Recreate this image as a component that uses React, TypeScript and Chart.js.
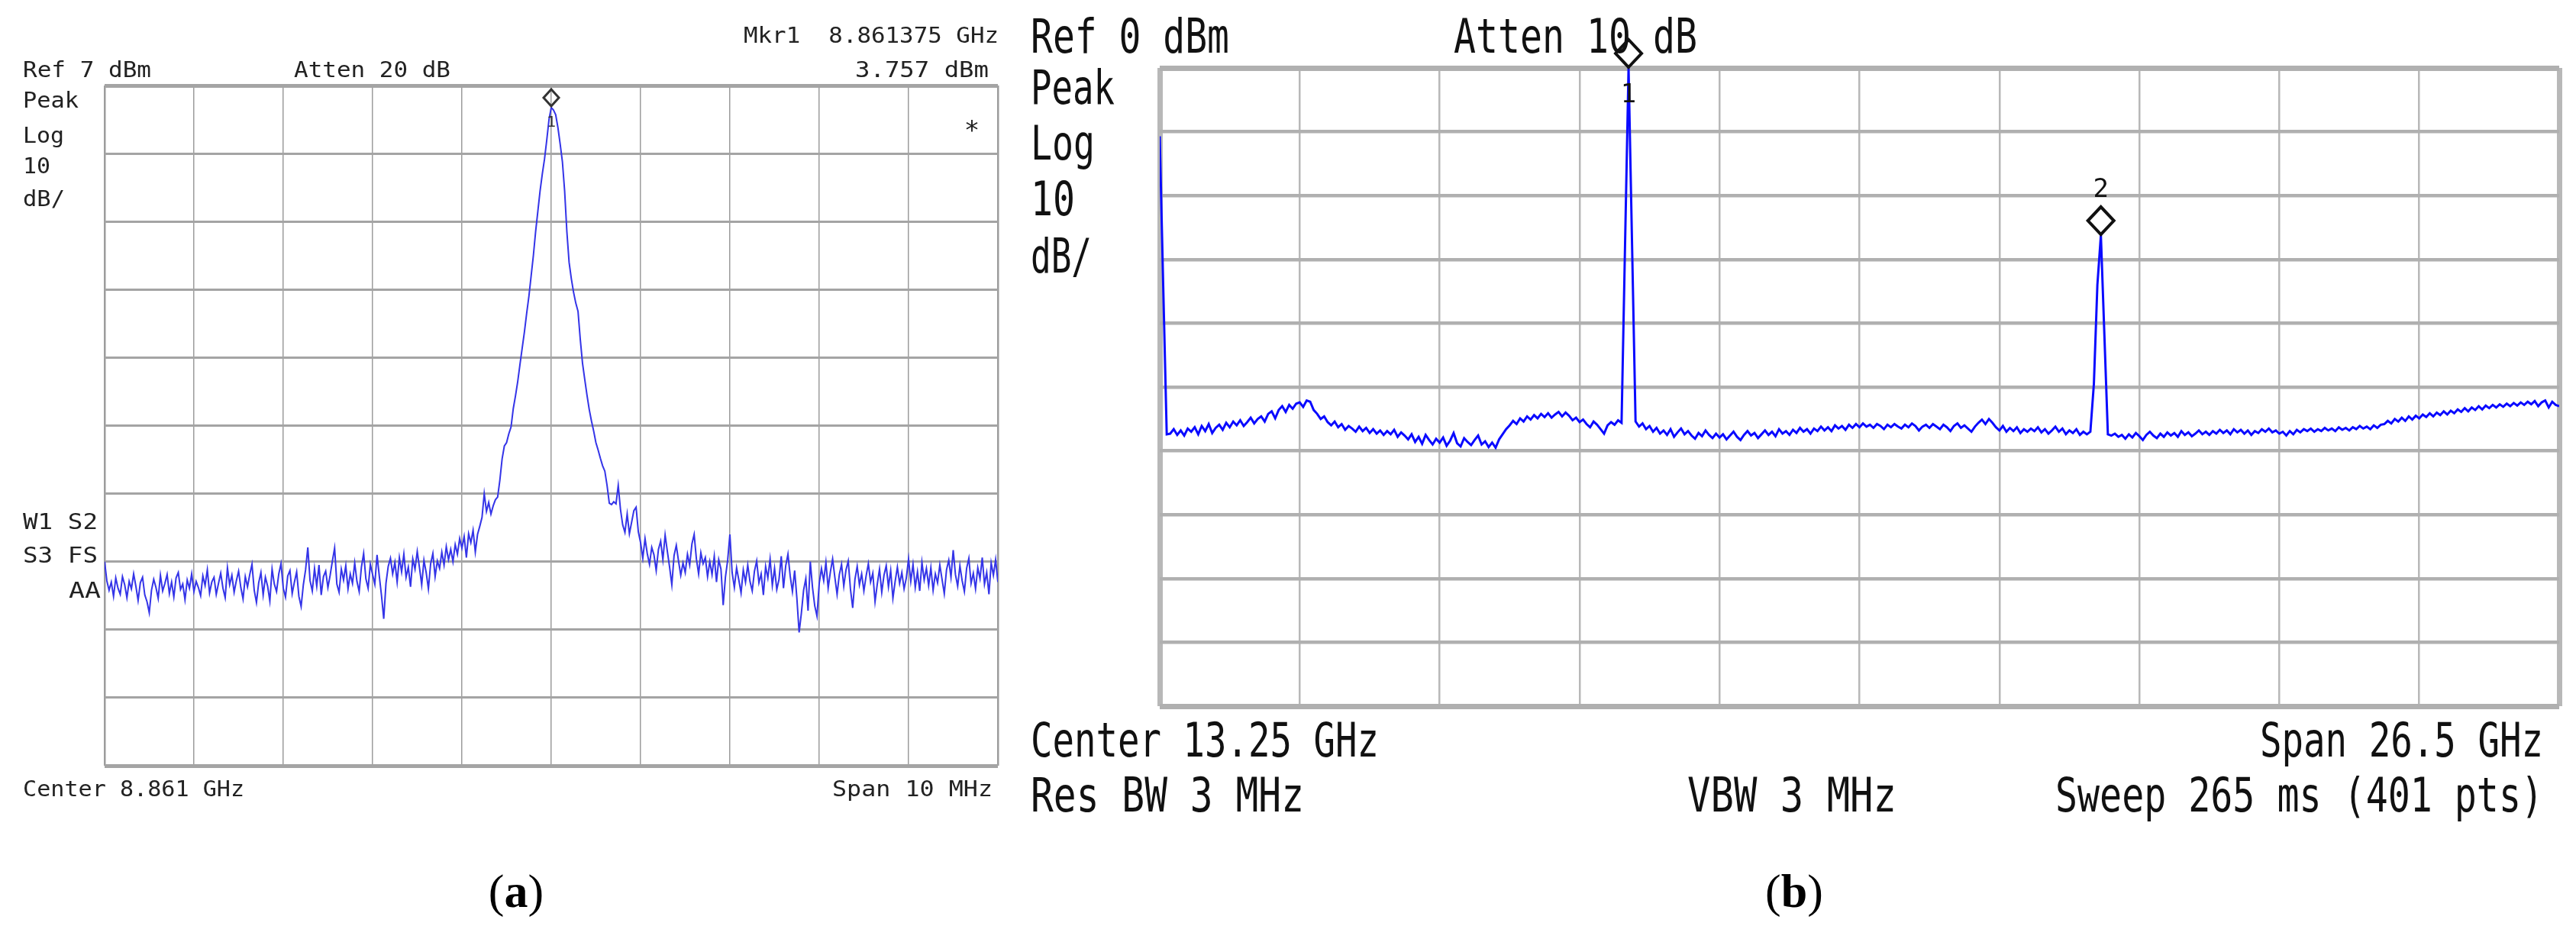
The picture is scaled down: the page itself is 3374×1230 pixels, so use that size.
import React, { useEffect, useRef } from "react";
import { Chart, registerables } from "chart.js";
Chart.register(...registerables);

// Panel (a): 401-point sweep, Ref 7 dBm, 10 dB/div, centre 8.861 GHz, span 10 MHz
const traceA: number[] = [
  -63.0, -65.8, -67.2, -66.0, -68.1, -65.4, -66.9, -67.8, -65.2, -66.4,
  -68.3, -65.9, -67.0, -64.8, -66.6, -68.7, -66.1, -65.3, -67.9, -68.9,
  -70.5, -67.2, -65.6, -66.8, -68.4, -65.0, -67.3, -66.2, -64.9, -67.7,
  -66.0, -68.2, -65.4, -64.6, -67.1, -66.3, -68.6, -65.7, -66.9, -64.8,
  -67.4, -65.9, -66.8, -68.0, -65.1, -66.5, -64.2, -67.6, -66.0, -65.3,
  -67.8, -66.2, -64.7, -66.9, -68.3, -63.9, -66.4, -65.0, -67.5, -65.8,
  -64.4, -66.8, -68.5, -65.2, -66.7, -64.9, -63.4, -67.2, -69.0, -66.1,
  -64.6, -67.9, -65.3, -66.6, -68.8, -64.1, -66.3, -67.4, -64.8, -63.3,
  -66.9, -68.2, -65.1, -64.3, -67.7, -66.0, -64.5, -68.1, -69.6, -66.4,
  -64.2, -60.9, -65.8, -67.3, -64.0, -66.6, -63.5, -67.9, -65.2, -64.4,
  -66.8, -65.0, -62.9, -61.0, -66.3, -67.5, -64.1, -65.7, -63.6, -67.0,
  -64.8, -66.2, -63.2, -65.9, -67.4, -63.8, -61.8, -65.5, -66.9, -63.4,
  -64.9, -66.3, -62.0, -65.1, -68.0, -71.4, -66.2, -63.7, -62.5, -64.8,
  -63.1, -66.0, -62.4, -64.5, -61.9, -65.3, -63.8, -66.7, -62.6, -64.1,
  -61.5, -63.9, -66.4, -62.8, -64.6, -67.0, -63.3, -61.8, -65.2, -62.9,
  -64.0, -61.6, -63.5, -60.8, -62.7, -61.2, -63.0, -60.5, -61.9, -59.6,
  -61.0, -59.3, -62.4, -58.9, -60.2, -58.4, -61.6, -59.0, -57.8, -56.5,
  -53.0, -55.6, -54.3, -56.0, -54.8, -53.9, -53.5, -51.0, -47.9, -46.0,
  -45.5, -44.2, -43.2, -40.5, -38.6, -36.5, -34.0, -31.6, -29.2, -26.5,
  -24.0, -21.0, -18.0, -14.5, -11.5, -8.5, -6.0, -3.8, -1.0, 2.0,
  3.757, 3.4, 2.7, 0.8, -1.6, -4.2, -8.5, -14.5, -19.0, -21.4,
  -23.4, -25.0, -26.2, -30.3, -33.8, -36.2, -38.5, -40.6, -42.3, -43.8,
  -45.5, -46.6, -47.8, -48.9, -49.7, -51.8, -54.4, -54.6, -54.2, -54.5,
  -51.8, -55.3, -57.6, -58.7, -56.0, -58.9, -57.2, -55.5, -55.0, -58.6,
  -60.2, -62.5, -59.6, -61.8, -63.4, -60.9, -62.0, -64.3, -61.2, -60.0,
  -62.7, -59.1, -61.5, -63.8, -66.4, -62.1, -60.6, -62.9, -65.0, -63.2,
  -64.6, -61.9, -63.5, -60.4, -59.0, -62.6, -64.8, -61.7, -63.3, -62.4,
  -65.2, -63.0, -64.9, -62.2, -66.0, -62.7, -64.1, -69.4, -65.3, -62.8,
  -59.0, -64.6, -66.8, -63.9, -65.7, -67.6, -64.2, -66.0, -63.5, -65.9,
  -67.3, -64.4, -62.9, -66.1, -64.8, -67.9, -63.7, -65.4, -62.6, -66.5,
  -64.0, -67.1, -65.6, -62.2, -66.9, -63.6, -61.9, -65.1, -67.4, -64.3,
  -68.4, -73.4, -70.6, -67.2, -65.5, -70.2, -63.0, -66.8, -69.5, -71.0,
  -66.2, -64.0, -65.8, -63.1, -66.9, -64.5, -62.6, -65.3, -67.8, -64.9,
  -63.4, -66.6, -64.2, -62.9, -67.1, -69.8, -65.6, -63.7, -66.4, -64.8,
  -67.3, -65.1, -63.3, -66.0, -64.7, -68.9, -66.3, -64.1, -67.5, -65.0,
  -63.6, -66.7, -64.3, -68.4, -65.9, -63.8, -66.2, -64.6, -67.0, -65.4,
  -62.6, -65.9, -63.4, -66.8, -64.5, -67.3, -63.1, -65.7, -64.0, -66.5,
  -63.9, -67.2, -64.8, -66.1, -63.5, -65.6, -67.7, -64.2, -62.8, -65.3,
  -61.3, -64.9, -66.6, -63.6, -65.8, -67.4, -64.0, -62.5, -66.2, -64.7,
  -67.0, -63.9, -65.5, -62.4, -66.3, -64.6, -67.8, -63.2, -65.0, -62.7,
  -66.0,
];

// Panel (b): 401-point sweep, Ref 0 dBm, 10 dB/div, 0 – 26.5 GHz
const traceB: number[] = [
  -10.7, -34.3, -57.4, -57.3, -56.6, -57.5, -56.8, -57.6, -56.5, -57.0,
  -56.3, -57.4, -56.1, -56.9, -55.8, -57.2, -56.4, -55.9, -56.7, -55.6,
  -56.3, -55.4, -56.0, -55.2, -56.1, -55.5, -54.8, -55.7, -55.0, -54.6,
  -55.4, -54.2, -53.8, -54.9, -53.6, -53.0, -53.9, -52.8, -53.4, -52.6,
  -52.4, -53.1, -52.1, -52.3, -53.6, -54.2, -55.0, -54.6, -55.5, -56.0,
  -55.4, -56.3, -55.8, -56.7, -56.1, -56.5, -57.0, -56.2, -56.9, -56.4,
  -57.2, -56.6, -57.3, -56.8, -57.5, -56.9, -57.4, -56.7, -57.8, -57.1,
  -57.6, -58.2, -57.4, -58.6, -57.8, -58.9, -57.5, -58.3, -59.0, -58.1,
  -58.7, -57.9, -59.2, -58.4, -57.2, -58.8, -59.3, -58.0, -58.6, -59.1,
  -58.3, -57.6, -59.0, -58.5, -59.4, -58.7, -59.5, -58.2, -57.4, -56.6,
  -56.0, -55.3, -55.8, -54.9, -55.4, -54.6, -55.1, -54.4, -54.9, -54.2,
  -54.7, -54.1, -54.8, -54.3, -53.9, -54.6, -54.0, -54.5, -55.2, -54.8,
  -55.5, -55.1, -55.8, -56.3, -55.4, -55.9, -56.6, -57.3, -56.0, -55.5,
  -55.9, -55.2, -55.6, -27.7, 0.0, -27.7, -55.4, -56.2, -55.7, -56.6,
  -56.1, -57.0, -56.4, -57.3, -56.8, -57.5, -56.6, -57.8, -57.1, -56.5,
  -57.4, -56.9, -57.6, -58.1, -57.2, -57.7, -56.8, -57.5, -58.0, -57.3,
  -57.9, -57.4, -58.2, -57.6, -57.0, -57.8, -58.3, -57.5, -56.9, -57.6,
  -57.2, -58.0, -57.4, -56.8, -57.5, -57.0, -57.7, -56.6, -57.3, -56.9,
  -57.5, -56.7, -57.2, -56.4, -57.0, -56.6, -57.3, -56.5, -56.9, -56.2,
  -56.8, -56.3, -56.9, -56.0, -56.5, -56.1, -56.7, -55.9, -56.4, -55.8,
  -56.3, -55.7, -56.2, -55.9, -56.4, -55.8, -56.1, -56.6, -55.9, -56.3,
  -55.8, -56.2, -56.5, -55.9, -56.3, -55.7, -56.1, -56.8, -56.2, -55.9,
  -56.4, -55.8, -56.2, -56.6, -55.9, -56.3, -56.9, -56.1, -55.7, -56.4,
  -56.0, -56.5, -57.0, -56.2, -55.6, -55.1, -55.8, -55.0, -55.6, -56.3,
  -56.8, -56.1, -57.0, -56.4, -56.9, -56.3, -57.2, -56.6, -57.0, -56.5,
  -56.9, -56.3, -57.1, -56.6, -57.3, -56.8, -56.2, -57.0, -56.5, -57.4,
  -56.8, -57.2, -56.6, -57.5, -57.0, -57.4, -57.0, -49.5, -34.0, -26.2,
  -41.8, -57.4, -57.6, -57.3, -57.8, -57.5, -58.1, -57.4, -57.9, -57.2,
  -57.7, -58.3, -57.5, -57.0, -57.6, -58.0, -57.3, -57.8, -57.1, -57.6,
  -57.2, -57.8, -56.9, -57.5, -57.1, -57.7, -57.3, -56.8, -57.4, -57.0,
  -57.5, -56.9, -57.3, -56.7, -57.2, -56.8, -57.4, -56.6, -57.1, -56.7,
  -57.3, -56.8, -57.5, -56.9, -57.2, -56.6, -57.0, -56.5, -57.1, -56.8,
  -57.3, -57.0, -57.6, -56.9, -57.4, -56.7, -57.1, -56.6, -56.9, -56.5,
  -57.0, -56.6, -56.9, -56.4, -56.8, -56.5, -56.9, -56.3, -56.7, -56.4,
  -56.8, -56.3, -56.6, -56.1, -56.5, -56.2, -56.6, -56.0, -56.4, -55.9,
  -55.8, -55.3, -55.7, -55.0, -55.4, -54.8, -55.3, -54.6, -55.1, -54.5,
  -54.9, -54.3, -54.7, -54.1, -54.6, -54.0, -54.4, -53.8, -54.3, -53.7,
  -54.1, -53.5, -53.9, -53.3, -53.8, -53.2, -53.6, -53.0, -53.5, -52.9,
  -53.3, -52.8, -53.2, -52.7, -53.1, -52.6, -53.0, -52.5, -52.9, -52.4,
  -52.8, -52.3, -52.7, -52.2, -53.0, -52.4, -52.1, -53.2, -52.3, -52.8,
  -53.0,
];

// vertical divisions (sweep point index) and horizontal divisions (dBm)
const xTicks: number[] = [0, 40, 80, 120, 160, 200, 240, 280, 320, 360, 400];
const yTicksA: number[] = [7, -3, -13, -23, -33, -43, -53, -63, -73, -83, -93];
const yTicksB: number[] = [0, -10, -20, -30, -40, -50, -60, -70, -80, -90, -100];

// markers (sweep point index, label)
const markersA = [{ index: 200, label: "1" }];
const markersB = [
  { index: 134, label: "1" },
  { index: 269, label: "2" },
];

type Txt = {
  text: string;
  x: number;
  y: number;
  size: number;
  w?: number;
  align?: "left" | "right" | "center";
  family?: string;
  color?: string;
  bold?: boolean;
};

const MONO = '"DejaVu Sans Mono", "Liberation Mono", monospace';
const SERIF = '"Liberation Serif", "DejaVu Serif", serif';

function drawTxt(ctx: CanvasRenderingContext2D, t: Txt) {
  ctx.save();
  ctx.font = `${t.bold ? "bold " : ""}${t.size}px ${t.family || MONO}`;
  ctx.fillStyle = t.color || "#222";
  ctx.textBaseline = "alphabetic";
  ctx.textAlign = "left";
  const m = ctx.measureText(t.text).width;
  const sx = t.w ? t.w / m : 1;
  const width = m * sx;
  let x = t.x;
  if (t.align === "right") x = t.x - width;
  else if (t.align === "center") x = t.x - width / 2;
  ctx.translate(x, t.y + 0.365 * t.size);
  ctx.scale(sx, 1);
  ctx.fillText(t.text, 0, 0);
  ctx.restore();
}

const SA = 28;
const textsA: Txt[] = [
  { text: "Mkr1  8.861375 GHz", x: 1308, y: 46, size: SA, w: 334, align: "right" },
  { text: "3.757 dBm", x: 1295, y: 91, size: SA, w: 175, align: "right" },
  { text: "Ref 7 dBm", x: 30, y: 91, size: SA, w: 168 },
  { text: "Atten 20 dB", x: 385, y: 91, size: SA, w: 205 },
  { text: "Peak", x: 30, y: 131, size: SA, w: 73 },
  { text: "Log", x: 30, y: 177, size: SA, w: 54 },
  { text: "10", x: 30, y: 217, size: SA, w: 36 },
  { text: "dB/", x: 30, y: 260, size: SA, w: 55 },
  { text: "*", x: 1273, y: 170, size: 34, align: "center" },
  { text: "W1 S2", x: 30, y: 683, size: SA, w: 98 },
  { text: "S3 FS", x: 30, y: 727, size: SA, w: 98 },
  { text: "AA", x: 132, y: 773, size: SA, w: 42, align: "right" },
  { text: "Center 8.861 GHz", x: 30, y: 1033, size: SA, w: 290 },
  { text: "Span 10 MHz", x: 1300, y: 1033, size: SA, w: 210, align: "right" },
];

const SB = 62;
const CB = "#111";
const textsB: Txt[] = [
  { text: "Ref 0 dBm", x: 20, y: 46, size: SB, w: 260, color: CB },
  { text: "Atten 10 dB", x: 574, y: 46, size: SB, w: 319, color: CB },
  { text: "Peak", x: 20, y: 113, size: SB, w: 110, color: CB },
  { text: "Log", x: 20, y: 186, size: SB, w: 84, color: CB },
  { text: "10", x: 20, y: 259, size: SB, w: 58, color: CB },
  { text: "dB/", x: 20, y: 334, size: SB, w: 80, color: CB },
  { text: "Center 13.25 GHz", x: 20, y: 968, size: SB, w: 456, color: CB },
  { text: "Span 26.5 GHz", x: 2001, y: 968, size: SB, w: 371, align: "right", color: CB },
  { text: "Res BW 3 MHz", x: 20, y: 1040, size: SB, w: 358, color: CB },
  { text: "VBW 3 MHz", x: 880, y: 1040, size: SB, w: 274, color: CB },
  { text: "Sweep 265 ms (401 pts)", x: 2001, y: 1040, size: SB, w: 639, align: "right", color: CB },
];

function drawPanelLabel(ctx: CanvasRenderingContext2D, letter: string, cx: number, cy: number) {
  const size = 62;
  ctx.save();
  ctx.fillStyle = "#000";
  ctx.textBaseline = "alphabetic";
  ctx.font = `${size}px ${SERIF}`;
  const wp = ctx.measureText("(").width;
  const wq = ctx.measureText(")").width;
  ctx.font = `bold ${size}px ${SERIF}`;
  const wl = ctx.measureText(letter).width;
  const total = wp + wl + wq;
  let x = cx - total / 2;
  const y = cy + 0.33 * size;
  ctx.font = `${size}px ${SERIF}`;
  ctx.fillText("(", x, y);
  x += wp;
  ctx.font = `bold ${size}px ${SERIF}`;
  ctx.fillText(letter, x, y);
  x += wl;
  ctx.font = `${size}px ${SERIF}`;
  ctx.fillText(")", x, y);
  ctx.restore();
}

type PanelCfg = {
  values: number[];
  yTicks: number[];
  padding: { left: number; right: number; top: number; bottom: number };
  lineColor: string;
  lineWidth: number;
  vColor: string;
  hColor: string;
  vWidth: number;
  hWidth: number;
  edgeV: number;
  edgeH: number;
  texts: Txt[];
  markers: { index: number; label: string }[];
  diamond: { hw: number; hh: number; lw: number; gap: number; color: string };
  markerLabel: { size: number; offsets: number[] };
  panelLabel: { letter: string; x: number; y: number };
};

function makeChart(canvas: HTMLCanvasElement, p: PanelCfg) {
  const overlay = {
    id: "overlay",
    afterDraw(chart: any) {
      const ctx: CanvasRenderingContext2D = chart.ctx;
      p.texts.forEach((t) => drawTxt(ctx, t));
      const xs = chart.scales.x;
      const ys = chart.scales.y;
      p.markers.forEach((m, k) => {
        const px = xs.getPixelForValue(m.index);
        const py = ys.getPixelForValue(p.values[m.index]) - p.diamond.gap;
        const { hw, hh } = p.diamond;
        ctx.save();
        ctx.strokeStyle = p.diamond.color;
        ctx.lineWidth = p.diamond.lw;
        ctx.lineJoin = "miter";
        ctx.beginPath();
        ctx.moveTo(px, py);
        ctx.lineTo(px + hw, py - hh);
        ctx.lineTo(px, py - 2 * hh);
        ctx.lineTo(px - hw, py - hh);
        ctx.closePath();
        ctx.stroke();
        ctx.restore();
        drawTxt(ctx, {
          text: m.label,
          x: px,
          y: py + p.markerLabel.offsets[k],
          size: p.markerLabel.size,
          align: "center",
          color: p.diamond.color,
        });
      });
      drawPanelLabel(ctx, p.panelLabel.letter, p.panelLabel.x, p.panelLabel.y);
    },
  };

  const n = 11;
  return new Chart(canvas, {
    type: "line",
    data: {
      datasets: [
        {
          data: p.values.map((v, i) => ({ x: i, y: v })),
          borderColor: p.lineColor,
          borderWidth: p.lineWidth,
          pointRadius: 0,
          tension: 0,
          fill: false,
        },
      ],
    },
    options: {
      responsive: false,
      animation: false,
      devicePixelRatio: 1,
      events: [],
      layout: { padding: p.padding },
      plugins: {
        legend: { display: false },
        tooltip: { enabled: false },
        title: { display: false },
      },
      scales: {
        x: {
          type: "linear",
          min: 0,
          max: 400,
          afterBuildTicks: (s: any) => {
            s.ticks = xTicks.map((v) => ({ value: v }));
          },
          ticks: { display: false },
          border: { display: false },
          grid: {
            drawTicks: false,
            color: p.vColor,
            lineWidth: (c: any) => (c.index === 0 || c.index === n - 1 ? p.edgeV : p.vWidth),
          },
        },
        y: {
          type: "linear",
          min: p.yTicks[p.yTicks.length - 1],
          max: p.yTicks[0],
          afterBuildTicks: (s: any) => {
            s.ticks = p.yTicks.map((v) => ({ value: v }));
          },
          ticks: { display: false },
          border: { display: false },
          grid: {
            drawTicks: false,
            color: p.hColor,
            lineWidth: (c: any) => (c.index === 0 || c.index === n - 1 ? p.edgeH : p.hWidth),
          },
        },
      },
    } as any,
    plugins: [overlay],
  });
}

export default function App() {
  const refA = useRef<HTMLCanvasElement>(null);
  const refB = useRef<HTMLCanvasElement>(null);

  useEffect(() => {
    const a = makeChart(refA.current!, {
      values: traceA,
      yTicks: yTicksA,
      padding: { left: 137, right: 1330 - 1307, top: 112, bottom: 1230 - 1003 },
      lineColor: "#3434e8",
      lineWidth: 2,
      vColor: "#9c9c9c",
      hColor: "#a4a4a4",
      vWidth: 1.5,
      hWidth: 3,
      edgeV: 2.5,
      edgeH: 5,
      texts: textsA,
      markers: markersA,
      diamond: { hw: 10, hh: 11, lw: 3, gap: 2, color: "#333" },
      markerLabel: { size: 20, offsets: [20] },
      panelLabel: { letter: "a", x: 676, y: 1168 },
    });
    const b = makeChart(refB.current!, {
      values: traceB,
      yTicks: yTicksB,
      padding: { left: 189, right: 2044 - 2022, top: 89, bottom: 1230 - 925 },
      lineColor: "#0a0aff",
      lineWidth: 3,
      vColor: "#b8b8b8",
      hColor: "#b0b0b0",
      vWidth: 2.5,
      hWidth: 4.5,
      edgeV: 7,
      edgeH: 7,
      texts: textsB,
      markers: markersB,
      diamond: { hw: 17, hh: 18, lw: 4, gap: 1, color: "#111" },
      markerLabel: { size: 34, offsets: [34, -61] },
      panelLabel: { letter: "b", x: 1020, y: 1168 },
    });
    return () => {
      a.destroy();
      b.destroy();
    };
  }, []);

  return (
    <div style={{ position: "absolute", left: 0, top: 0, width: 3374, height: 1230, background: "#fff", overflow: "hidden" }}>
      <canvas
        ref={refA}
        width={1330}
        height={1230}
        style={{ position: "absolute", left: 0, top: 0, width: 1330, height: 1230 }}
      />
      <canvas
        ref={refB}
        width={2044}
        height={1230}
        style={{ position: "absolute", left: 1330, top: 0, width: 2044, height: 1230 }}
      />
    </div>
  );
}
